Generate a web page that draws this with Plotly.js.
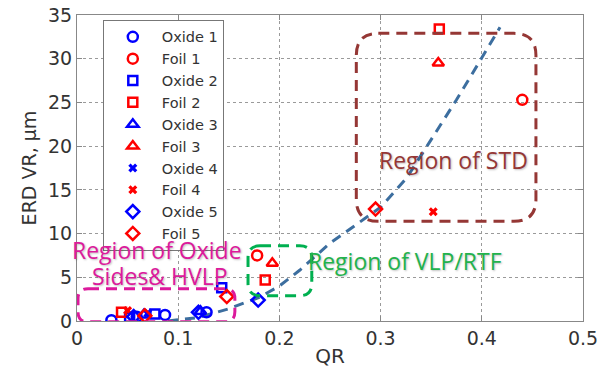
<!DOCTYPE html>
<html>
<head>
<meta charset="utf-8">
<script src="https://cdn.plot.ly/plotly-3.0.1.min.js"></script>
<style>
  html, body { margin: 0; padding: 0; background: #fff; }
  #chart { width: 600px; height: 368px; }
</style>
</head>
<body>
<div id="chart"></div>
<script>
// Measured ERD void ratio (VR, µm) against QR for each sample
const seriesNames = ["Oxide 1", "Foil 1", "Oxide 2", "Foil 2", "Oxide 3",
                     "Foil 3", "Oxide 4", "Foil 4", "Oxide 5", "Foil 5"];

const oxide1QR = [0.034, 0.059, 0.087, 0.128];
const oxide1VR = [0.1, 0.5, 0.7, 1.0];
const foil1QR  = [0.178, 0.44];
const foil1VR  = [7.5, 25.3];
const oxide2QR = [0.052, 0.077, 0.143];
const oxide2VR = [0.4, 0.8, 3.8];
const foil2QR  = [0.044, 0.186, 0.358];
const foil2VR  = [1.0, 4.7, 33.4];
const oxide3QR = [0.066, 0.122];
const oxide3VR = [0.7, 1.1];
const foil3QR  = [0.193, 0.357];
const foil3VR  = [6.6, 29.5];
const oxide4QR = [0.07];
const oxide4VR = [0.9];
const foil4QR  = [0.05, 0.352];
const foil4VR  = [1.2, 12.5];
const oxide5QR = [0.056, 0.12, 0.179];
const oxide5VR = [0.5, 1.0, 2.4];
const foil5QR  = [0.067, 0.148, 0.295];
const foil5VR  = [0.6, 2.8, 12.8];

// Trend curve through the data
const trendQR = [0.09, 0.12, 0.15, 0.18, 0.20, 0.22, 0.25, 0.30, 0.326, 0.36, 0.375, 0.40, 0.418];
const trendVR = [0.0, 0.4, 1.4, 2.7, 4.0, 5.8, 8.9, 13.0, 16.4, 22.6, 25.3, 30.1, 33.6];

const xTicks = [0, 0.1, 0.2, 0.3, 0.4, 0.5];
const xTickText = ["0", "0.1", "0.2", "0.3", "0.4", "0.5"];
const yTicks = [0, 5, 10, 15, 20, 25, 30, 35];

const seriesQR = [oxide1QR, foil1QR, oxide2QR, foil2QR, oxide3QR, foil3QR, oxide4QR, foil4QR, oxide5QR, foil5QR];
const seriesVR = [oxide1VR, foil1VR, oxide2VR, foil2VR, oxide3VR, foil3VR, oxide4VR, foil4VR, oxide5VR, foil5VR];

// Styling
const BLUE = "#0000ff", RED = "#ff0000";
const symbols = ["circle-open", "circle-open", "square-open", "square-open",
                 "triangle-up-open", "triangle-up-open", "x", "x",
                 "diamond-open", "diamond-open"];
const sizes = [10, 10, 9, 9, 10, 10, 8, 8, 10, 10];

const margin = { l: 77, r: 17, t: 15, b: 47 };
const W = 600, H = 368;
const xRange = [0, 0.5], yRange = [0, 35];
const pxPerX = (W - margin.l - margin.r) / (xRange[1] - xRange[0]);
const pxPerY = (H - margin.t - margin.b) / (yRange[1] - yRange[0]);

// Rounded rectangle outline in data coordinates, corner radius in pixels
function roundedRect(x0, x1, y0, y1, rpx) {
  const rx = rpx / pxPerX, ry = rpx / pxPerY;
  return `M ${x0 + rx},${y1} L ${x1 - rx},${y1} Q ${x1},${y1} ${x1},${y1 - ry} ` +
         `L ${x1},${y0 + ry} Q ${x1},${y0} ${x1 - rx},${y0} ` +
         `L ${x0 + rx},${y0} Q ${x0},${y0} ${x0},${y0 + ry} ` +
         `L ${x0},${y1 - ry} Q ${x0},${y1} ${x0 + rx},${y1} Z`;
}

const traces = [{
  x: trendQR, y: trendVR, mode: "lines", showlegend: false, hoverinfo: "skip",
  line: { color: "#3c6e9f", width: 3, dash: "10px,7px" }
}];
seriesNames.forEach((name, i) => {
  const color = i % 2 === 0 ? BLUE : RED;
  traces.push({
    x: seriesQR[i], y: seriesVR[i], name: name, mode: "markers", type: "scatter",
    marker: {
      symbol: symbols[i], size: sizes[i], color: color,
      line: { color: color, width: symbols[i] === "x" ? 0 : 2.5 }
    }
  });
});

const STD = "#953735", VLP = "#00b050", OXI = "#dc1a9c";
const regionFont = (c) => ({ family: "Open Sans, Lato, sans-serif", size: 23, color: c,
                             shadow: "1px 1px 2px rgba(0,0,0,0.25)" });

const layout = {
  width: W, height: H, margin: margin,
  paper_bgcolor: "#ffffff", plot_bgcolor: "#ffffff",
  font: { family: "DejaVu Sans, sans-serif", color: "#333333", size: 18 },
  showlegend: true,
  legend: {
    x: 0.051, y: 0.984, xanchor: "left", yanchor: "top",
    bgcolor: "#ffffff", bordercolor: "#777777", borderwidth: 1,
    font: { family: "DejaVu Sans, sans-serif", size: 14.5, color: "#333333" },
    tracegroupgap: 0, itemwidth: 48
  },
  xaxis: {
    range: xRange, tickvals: xTicks, ticktext: xTickText,
    showgrid: true, gridcolor: "#9a9a9a", griddash: "dot", gridwidth: 1,
    zeroline: false, showline: true, linecolor: "#888888", linewidth: 1, mirror: "ticks",
    ticks: "inside", ticklen: 5, tickcolor: "#888888",
    tickfont: { family: "DejaVu Sans, sans-serif", size: 19, color: "#333333" },
    title: { text: "QR", font: { family: "DejaVu Sans, sans-serif", size: 20, color: "#333333" }, standoff: 2 }
  },
  yaxis: {
    range: yRange, tickvals: yTicks,
    showgrid: true, gridcolor: "#9a9a9a", griddash: "dot", gridwidth: 1,
    zeroline: false, showline: true, linecolor: "#888888", linewidth: 1, mirror: "ticks",
    ticks: "inside", ticklen: 5, tickcolor: "#888888",
    tickfont: { family: "DejaVu Sans, sans-serif", size: 19, color: "#333333" },
    title: { text: "ERD VR, μm", font: { family: "DejaVu Sans, sans-serif", size: 19, color: "#333333" }, standoff: 6 }
  },
  shapes: [
    { type: "path", xref: "x", yref: "y", path: roundedRect(0.276, 0.4535, 11.4, 32.9, 22),
      line: { color: STD, width: 3, dash: "11px,7px" }, layer: "above" },
    { type: "path", xref: "x", yref: "y", path: roundedRect(0.169, 0.232, 2.9, 8.6, 12),
      line: { color: VLP, width: 3, dash: "11px,7px" }, layer: "above" },
    { type: "path", xref: "x", yref: "y", path: roundedRect(0.001, 0.156, -0.1, 3.7, 10),
      line: { color: OXI, width: 3, dash: "11px,7px" }, layer: "above" }
  ],
  annotations: [
    { x: 0.372, y: 18.4, xref: "x", yref: "y", text: "Region of STD", showarrow: false, font: regionFont(STD) },
    { x: 0.324, y: 6.9, xref: "x", yref: "y", text: "Region of VLP/RTF", showarrow: false, font: regionFont("#22b24c") },
    { x: 0.079, y: 8.1, xref: "x", yref: "y", text: "Region of Oxide", showarrow: false, font: regionFont(OXI) },
    { x: 0.082, y: 5.2, xref: "x", yref: "y", text: "Sides&amp; HVLP", showarrow: false, font: regionFont(OXI) }
  ]
};

Plotly.newPlot("chart", traces, layout, { staticPlot: true, displayModeBar: false });
</script>
</body>
</html>
